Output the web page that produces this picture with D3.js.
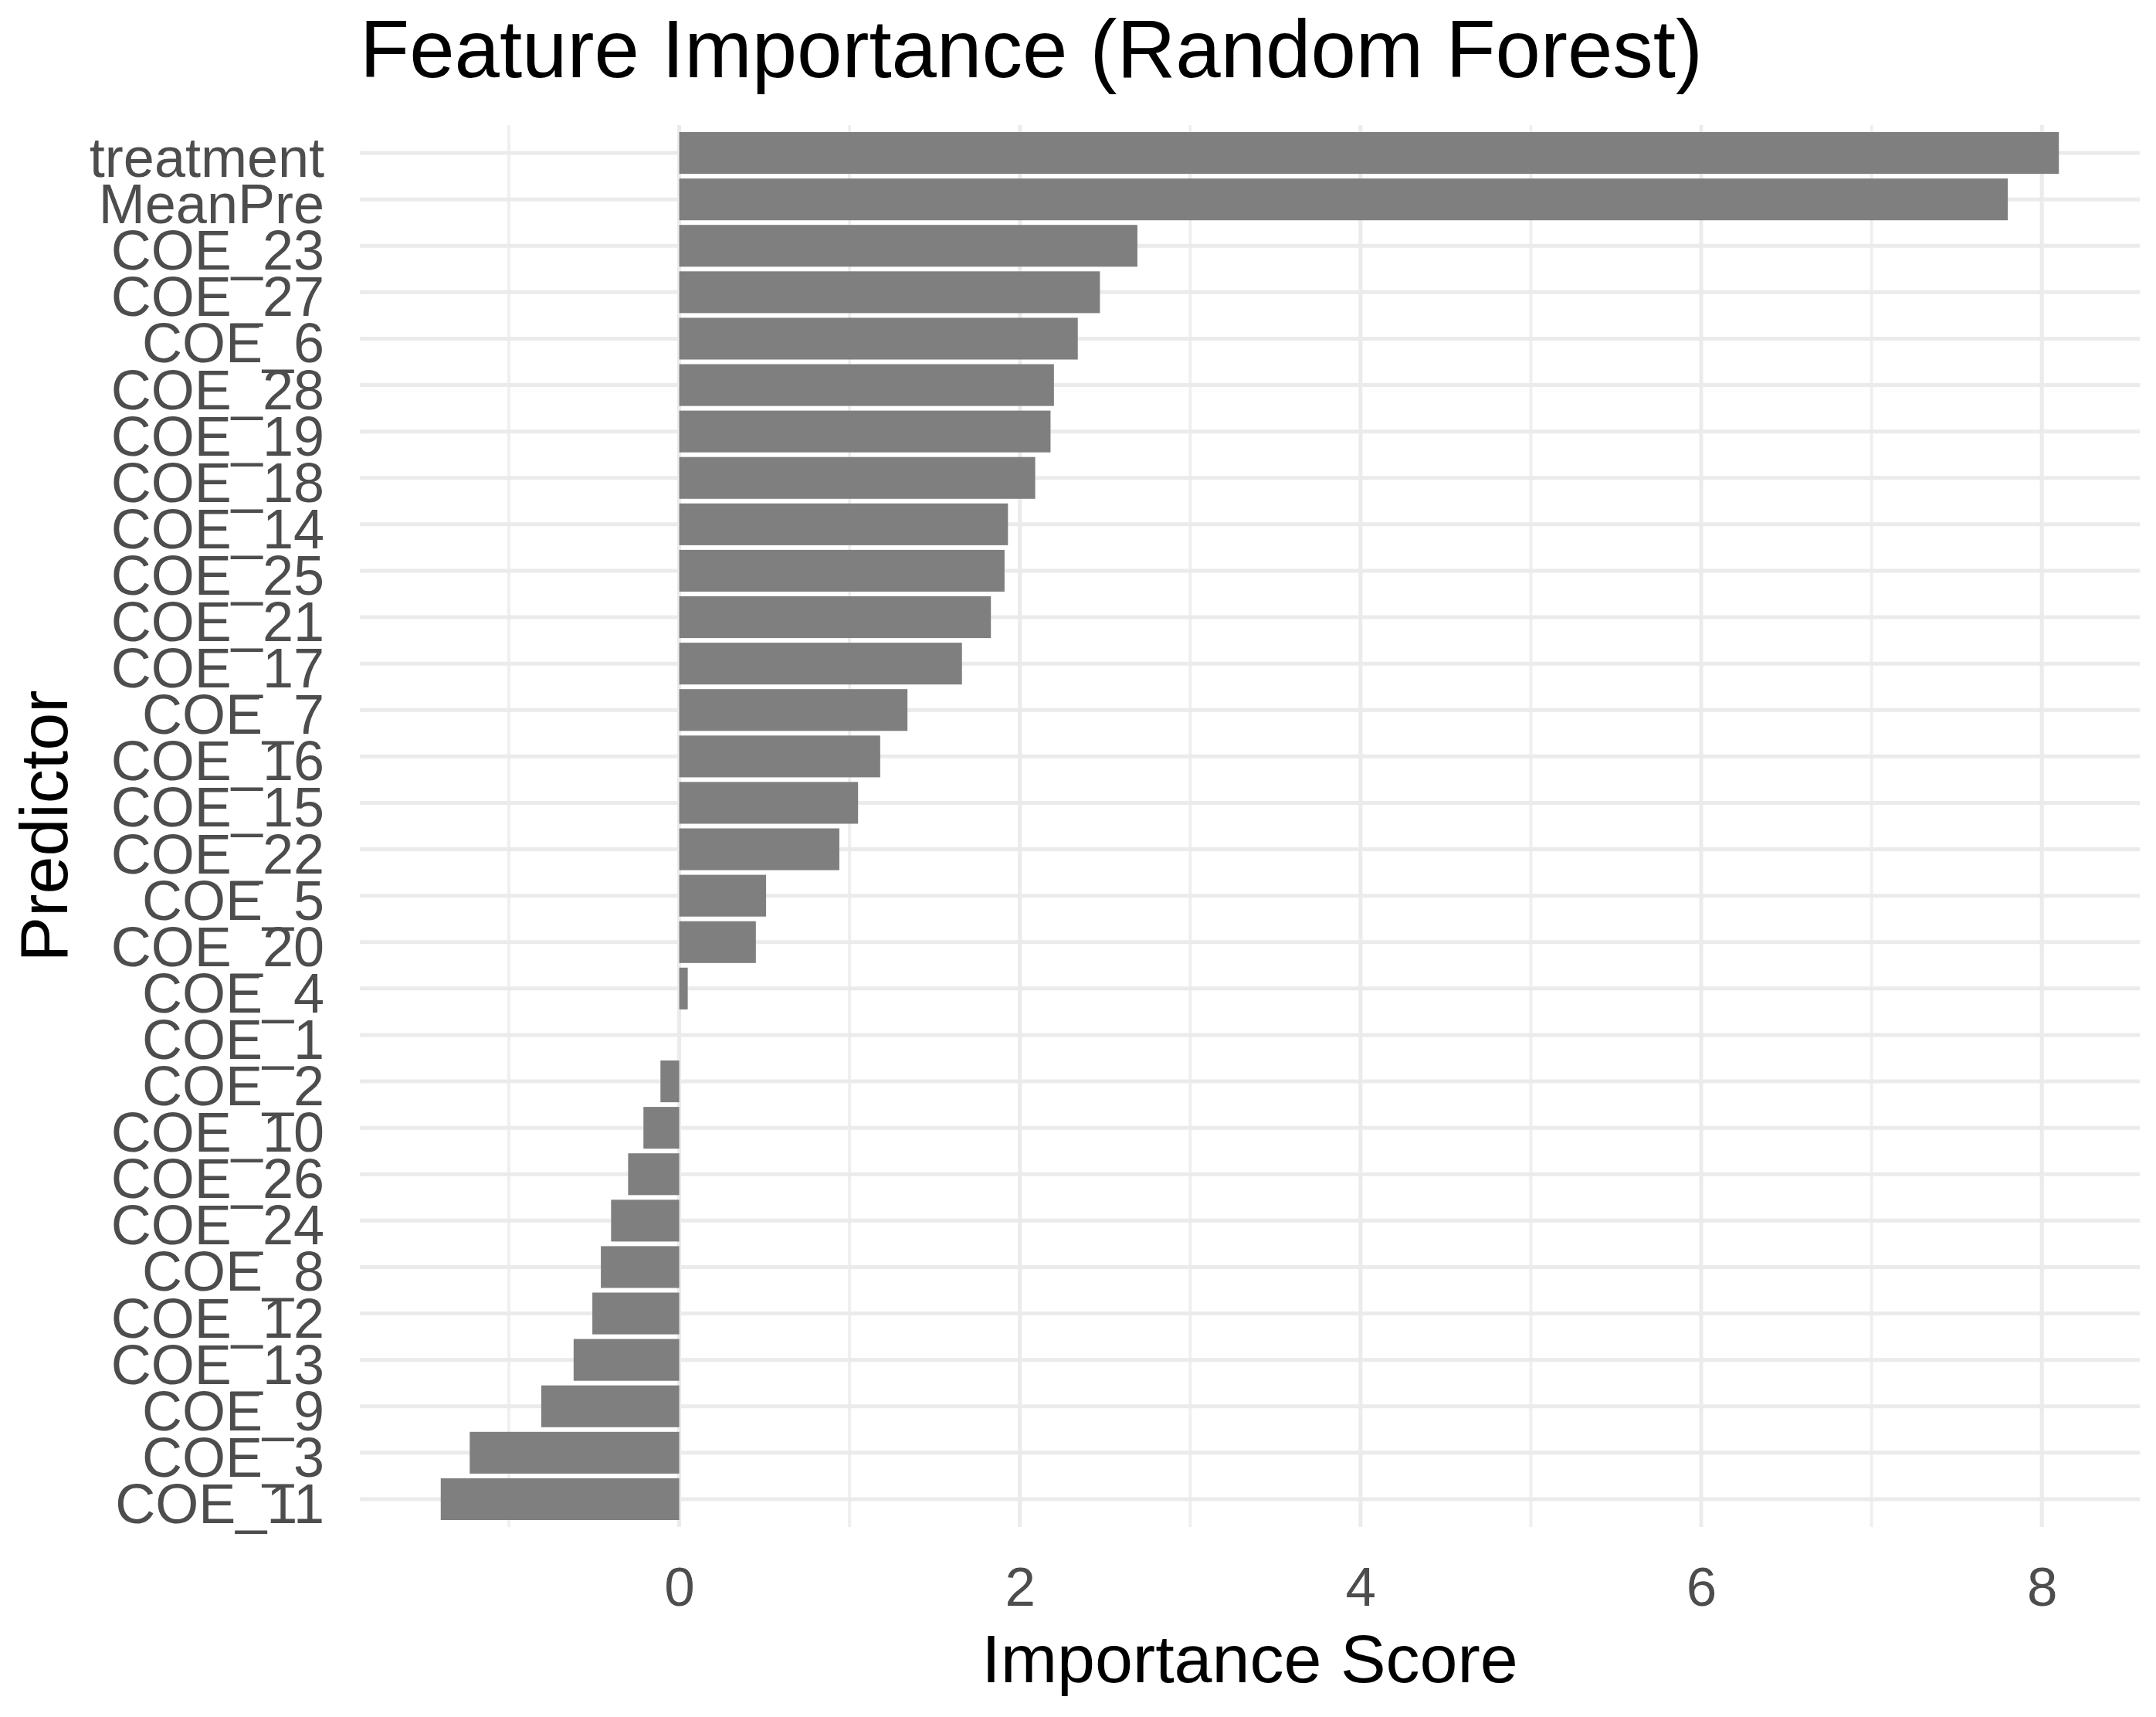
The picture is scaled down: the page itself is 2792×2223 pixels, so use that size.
<!DOCTYPE html>
<html>
<head>
  <meta http-equiv="Content-Type" content="text/html;charset=utf-8">
  <title>Feature Importance (Random Forest)</title>
  <script type="text/javascript" src="https://d3js.org/d3.v7.min.js"></script>
  <style>
    body { margin: 0; background: #fff; }
    text { font-family: "Liberation Sans", Arial, sans-serif; }
  </style>
</head>
<body>
<svg width="2792" height="2223"></svg>
<script>
  // predictors, top to bottom
  var predictors = ["treatment", "MeanPre", "COE_23", "COE_27", "COE_6", "COE_28", "COE_19", "COE_18",
    "COE_14", "COE_25", "COE_21", "COE_17", "COE_7", "COE_16", "COE_15", "COE_22", "COE_5", "COE_20",
    "COE_4", "COE_1", "COE_2", "COE_10", "COE_26", "COE_24", "COE_8", "COE_12", "COE_13", "COE_9",
    "COE_3", "COE_11"];
  // importance score for each predictor
  var scores = [8.10, 7.80, 2.69, 2.47, 2.34, 2.20, 2.18, 2.09,
    1.93, 1.91, 1.83, 1.66, 1.34, 1.18, 1.05, 0.94, 0.51, 0.45,
    0.05, 0.00, -0.11, -0.21, -0.30, -0.40, -0.46, -0.51, -0.62, -0.81,
    -1.23, -1.40];
  var xTicks = [0, 2, 4, 6, 8];
  var xMinor = [-1, 1, 3, 5, 7];

  var rows = predictors.map(function (p, i) { return { name: p, value: scores[i] }; });

  var panel = { left: 466, right: 2771, top: 168, bottom: 1971 };
  var svg = d3.select("svg");

  // ggplot style 5% expansion, bars always start at 0
  var lo = Math.min(0, d3.min(scores)), hi = Math.max(0, d3.max(scores));
  var pad = (hi - lo) * 0.05;
  var x = d3.scaleLinear().domain([lo - pad, hi + pad]).range([panel.left, panel.right]);
  var y = d3.scaleBand().domain(predictors).range([panel.top, panel.bottom])
    .paddingInner(0.1).paddingOuter(0.05);
  var step = y.step();
  var gTop = panel.top - step * 0.1, gBottom = panel.bottom + step * 0.1;

  // grid
  var grid = svg.append("g");
  grid.selectAll(".vminor").data(xMinor).enter().append("line")
    .attr("x1", function (d) { return x(d); }).attr("x2", function (d) { return x(d); })
    .attr("y1", gTop).attr("y2", gBottom)
    .style("stroke", "#efefef").style("stroke-width", 4);
  grid.selectAll(".vmajor").data(xTicks).enter().append("line")
    .attr("x1", function (d) { return x(d); }).attr("x2", function (d) { return x(d); })
    .attr("y1", gTop).attr("y2", gBottom)
    .style("stroke", "#ebebeb").style("stroke-width", 5);
  grid.selectAll(".hmajor").data(predictors).enter().append("line")
    .attr("x1", panel.left).attr("x2", panel.right)
    .attr("y1", function (d) { return y(d) + y.bandwidth() / 2; })
    .attr("y2", function (d) { return y(d) + y.bandwidth() / 2; })
    .style("stroke", "#ebebeb").style("stroke-width", 5);

  // bars
  svg.append("g").selectAll("rect").data(rows).enter().append("rect")
    .attr("x", function (d) { return x(Math.min(0, d.value)); })
    .attr("y", function (d) { return y(d.name); })
    .attr("width", function (d) { return Math.abs(x(d.value) - x(0)); })
    .attr("height", y.bandwidth())
    .attr("fill", "#7f7f7f");

  // axes, no lines or ticks (theme_minimal)
  var xAxis = svg.append("g")
    .attr("transform", "translate(0," + gBottom + ")")
    .call(d3.axisBottom(x).tickValues(xTicks).tickSize(0).tickPadding(52));
  var yAxis = svg.append("g")
    .attr("transform", "translate(" + panel.left + ",0)")
    .call(d3.axisLeft(y).tickSize(0).tickPadding(46));
  [xAxis, yAxis].forEach(function (a) {
    a.select(".domain").remove();
    a.selectAll("text")
      .style("font-family", "'Liberation Sans', Arial, sans-serif")
      .style("font-size", "71px")
      .attr("fill", "#4d4d4d");
  });
  yAxis.selectAll("text").style("font-size", "72px").attr("dy", "0.43em");

  // titles
  svg.append("text")
    .attr("x", panel.left).attr("y", 100)
    .style("font-size", "105px").attr("fill", "#000")
    .text("Feature Importance (Random Forest)");

  svg.append("text")
    .attr("x", (panel.left + panel.right) / 2).attr("y", 2178)
    .attr("text-anchor", "middle")
    .style("font-size", "88px").attr("fill", "#000")
    .text("Importance Score");

  svg.append("text")
    .attr("transform", "translate(87," + (gTop + gBottom) / 2 + ") rotate(-90)")
    .attr("text-anchor", "middle")
    .style("font-size", "88px").attr("fill", "#000")
    .text("Predictor");
</script>
</body>
</html>
